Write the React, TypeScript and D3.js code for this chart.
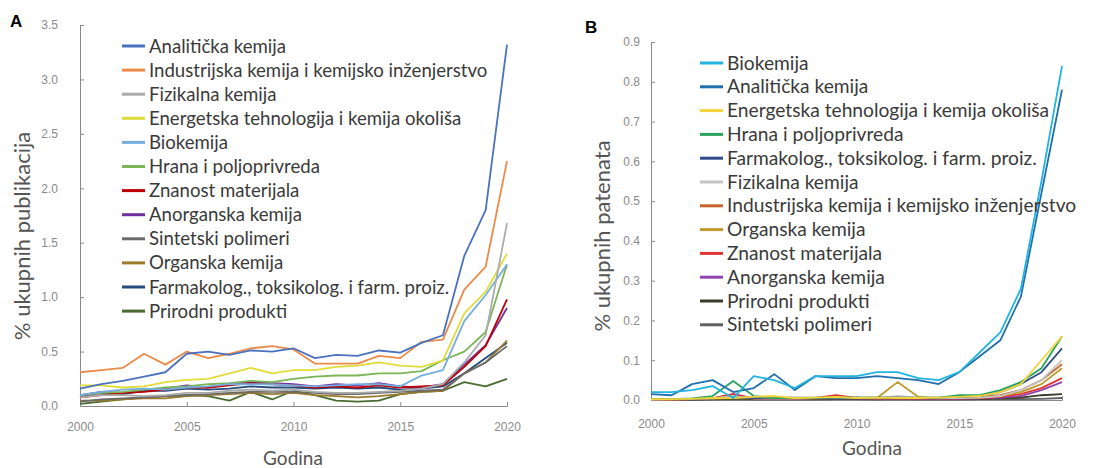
import { useEffect, useRef } from "react";
import * as d3 from "d3";

const years = d3.range(2000, 2021);
const xTicks = [2000, 2005, 2010, 2015, 2020];

// Panel A - publications
const namesA = [
  "Analitička kemija",
  "Industrijska kemija i kemijsko inženjerstvo",
  "Fizikalna kemija",
  "Energetska tehnologija i kemija okoliša",
  "Biokemija",
  "Hrana i poljoprivreda",
  "Znanost materijala",
  "Anorganska kemija",
  "Sintetski polimeri",
  "Organska kemija",
  "Farmakolog., toksikolog. i farm. proiz.",
  "Prirodni produkti",
];
const colorsA = [
  "#4a72c0", "#ec8a4a", "#ababab", "#e2dc3a", "#74aee0", "#7bb556",
  "#c00000", "#7030a0", "#6a6a6a", "#9c7a2c", "#234a7c", "#4a6a30",
];
const valuesA = [
  [0.16, 0.2, 0.23, 0.27, 0.31, 0.48, 0.5, 0.47, 0.51, 0.5, 0.53, 0.44, 0.47, 0.46, 0.51, 0.49, 0.58, 0.65, 1.38, 1.8, 3.32],
  [0.31, 0.33, 0.35, 0.48, 0.38, 0.5, 0.44, 0.48, 0.53, 0.55, 0.52, 0.39, 0.39, 0.39, 0.46, 0.44, 0.59, 0.61, 1.07, 1.28, 2.25],
  [0.08, 0.1, 0.1, 0.09, 0.1, 0.12, 0.12, 0.14, 0.15, 0.14, 0.15, 0.13, 0.12, 0.12, 0.13, 0.14, 0.16, 0.2, 0.4, 0.65, 1.68],
  [0.19, 0.19, 0.17, 0.18, 0.22, 0.24, 0.25, 0.3, 0.35, 0.3, 0.33, 0.33, 0.36, 0.37, 0.4, 0.37, 0.36, 0.42, 0.85, 1.05, 1.4],
  [0.1, 0.13, 0.15, 0.16, 0.15, 0.17, 0.18, 0.2, 0.2, 0.2, 0.19, 0.18, 0.19, 0.2, 0.2, 0.18, 0.28, 0.33, 0.78, 1.02, 1.3],
  [0.1, 0.12, 0.13, 0.15, 0.17, 0.18, 0.2, 0.21, 0.23, 0.22, 0.25, 0.27, 0.28, 0.28, 0.3, 0.3, 0.32, 0.42, 0.5, 0.68, 1.3],
  [0.08, 0.1, 0.12, 0.13, 0.15, 0.17, 0.17, 0.19, 0.21, 0.2, 0.19, 0.17, 0.18, 0.17, 0.19, 0.17, 0.18, 0.19, 0.36, 0.55, 0.98],
  [0.1, 0.13, 0.12, 0.15, 0.16, 0.19, 0.17, 0.2, 0.22, 0.21, 0.2, 0.18, 0.2, 0.19, 0.21, 0.18, 0.17, 0.2, 0.38, 0.56, 0.9],
  [0.04, 0.06, 0.07, 0.08, 0.09, 0.1, 0.11, 0.12, 0.13, 0.13, 0.13, 0.12, 0.11, 0.11, 0.12, 0.13, 0.14, 0.15, 0.3, 0.4, 0.55],
  [0.05, 0.05, 0.06, 0.07, 0.07, 0.09, 0.1, 0.11, 0.12, 0.11, 0.12, 0.1, 0.09, 0.08, 0.09, 0.11, 0.13, 0.14, 0.3, 0.4, 0.6],
  [0.09, 0.12, 0.11, 0.14, 0.14, 0.16, 0.15, 0.16, 0.18, 0.17, 0.17, 0.16, 0.17, 0.16, 0.17, 0.15, 0.16, 0.18, 0.3, 0.44, 0.58],
  [0.02, 0.04, 0.06, 0.08, 0.09, 0.1, 0.09, 0.05, 0.13, 0.06, 0.14, 0.1, 0.05, 0.04, 0.05, 0.11, 0.13, 0.14, 0.22, 0.18, 0.25],
];
const yTicksA = [0, 0.5, 1.0, 1.5, 2.0, 2.5, 3.0, 3.5];

// Panel B - patents
const namesB = [
  "Biokemija",
  "Analitička kemija",
  "Energetska tehnologija i kemija okoliša",
  "Hrana i poljoprivreda",
  "Farmakolog., toksikolog. i farm. proiz.",
  "Fizikalna kemija",
  "Industrijska kemija i kemijsko inženjerstvo",
  "Organska kemija",
  "Znanost materijala",
  "Anorganska kemija",
  "Prirodni produkti",
  "Sintetski polimeri",
];
const colorsB = [
  "#22b4e0", "#1f6fae", "#f2d43a", "#2aa35e", "#2f4d8c", "#c4c4c4",
  "#c8642a", "#c09a2a", "#e23434", "#8e44ad", "#3a3a28", "#606060",
];
const valuesB = [
  [0.02, 0.02, 0.025, 0.035, 0.005, 0.06, 0.05, 0.03, 0.06, 0.06, 0.06, 0.07, 0.07, 0.055, 0.05, 0.07, 0.12, 0.17, 0.28, 0.55, 0.84],
  [0.015, 0.012, 0.04, 0.05, 0.02, 0.03, 0.065, 0.025, 0.06, 0.055, 0.055, 0.06, 0.055, 0.05, 0.04, 0.07, 0.11, 0.15, 0.26, 0.52, 0.78],
  [0.002, 0.002, 0.003, 0.005, 0.005, 0.008, 0.01, 0.005, 0.006, 0.008, 0.005, 0.006, 0.005, 0.005, 0.006, 0.008, 0.01, 0.02, 0.04, 0.1, 0.16],
  [0.002, 0.002, 0.004, 0.01, 0.048, 0.01, 0.005, 0.005, 0.006, 0.006, 0.006, 0.006, 0.005, 0.006, 0.006, 0.012, 0.012, 0.025, 0.045, 0.08, 0.16],
  [0.002, 0.002, 0.003, 0.004, 0.006, 0.005, 0.006, 0.006, 0.005, 0.006, 0.006, 0.006, 0.006, 0.005, 0.006, 0.008, 0.01, 0.02, 0.04, 0.07, 0.13],
  [0.001, 0.002, 0.003, 0.004, 0.01, 0.004, 0.004, 0.004, 0.005, 0.005, 0.005, 0.005, 0.01, 0.006, 0.005, 0.005, 0.006, 0.01, 0.025, 0.05, 0.1],
  [0.002, 0.002, 0.003, 0.004, 0.008, 0.005, 0.005, 0.005, 0.005, 0.005, 0.005, 0.004, 0.005, 0.004, 0.005, 0.006, 0.008, 0.012, 0.025, 0.05, 0.09],
  [0.001, 0.001, 0.002, 0.003, 0.005, 0.004, 0.004, 0.004, 0.004, 0.005, 0.005, 0.005, 0.045, 0.008, 0.004, 0.005, 0.006, 0.01, 0.02, 0.04, 0.08],
  [0.001, 0.001, 0.002, 0.004, 0.015, 0.004, 0.004, 0.004, 0.005, 0.012, 0.005, 0.004, 0.005, 0.004, 0.004, 0.004, 0.005, 0.008, 0.015, 0.03, 0.055],
  [0.001, 0.001, 0.002, 0.004, 0.015, 0.004, 0.003, 0.003, 0.004, 0.005, 0.004, 0.003, 0.004, 0.003, 0.003, 0.003, 0.004, 0.006, 0.01, 0.025, 0.045],
  [0.001, 0.001, 0.001, 0.002, 0.003, 0.002, 0.002, 0.002, 0.002, 0.003, 0.003, 0.002, 0.003, 0.002, 0.002, 0.002, 0.003, 0.004, 0.006, 0.012, 0.015],
  [0.001, 0.001, 0.001, 0.001, 0.002, 0.001, 0.001, 0.001, 0.001, 0.002, 0.002, 0.001, 0.002, 0.001, 0.001, 0.001, 0.002, 0.002, 0.002, 0.003, 0.005],
];
const yTicksB = [0, 0.1, 0.2, 0.3, 0.4, 0.5, 0.6, 0.7, 0.8, 0.9];

function drawPanel(svg, p) {
  const x = d3.scaleLinear().domain([2000, 2020]).range([p.left, p.right]);
  const y = d3.scaleLinear().domain([0, p.yMax]).range([p.bottom, p.top]);
  const g = svg.append("g");

  // axes
  const yAxis = g
    .append("g")
    .attr("transform", `translate(${p.left},0)`)
    .call(d3.axisRight(y).tickValues(p.yTicks).tickSize(4).tickFormat(d3.format(".1f")));
  yAxis.select(".domain").attr("stroke", "#8a8a8a");
  yAxis.selectAll(".tick line").attr("stroke", "#8a8a8a");
  yAxis
    .selectAll(".tick text")
    .attr("x", -p.yLabelGap)
    .attr("text-anchor", "end")
    .attr("fill", "#8a8a8a")
    .style("font-family", "Liberation Sans Narrow, Liberation Sans")
    .style("font-size", "12px");

  const xAxis = g
    .append("g")
    .attr("transform", `translate(0,${p.bottom})`)
    .call(d3.axisTop(x).tickValues(xTicks).tickSize(4).tickFormat(d3.format("d")));
  xAxis.select(".domain").attr("stroke", "#8a8a8a");
  xAxis.selectAll(".tick line").attr("stroke", "#8a8a8a");
  xAxis
    .selectAll(".tick text")
    .attr("y", p.xLabelGap)
    .attr("dy", 0)
    .attr("fill", "#8a8a8a")
    .style("font-family", "Liberation Sans Narrow, Liberation Sans")
    .style("font-size", "12px");

  // lines
  const line = d3
    .line()
    .x((d, i) => x(years[i]))
    .y(d => y(d));
  for (let i = p.values.length - 1; i >= 0; i--) {
    g.append("path")
      .attr("d", line(p.values[i]))
      .attr("fill", "none")
      .attr("stroke", p.colors[i])
      .attr("stroke-width", 1.8)
      .attr("stroke-linejoin", "round");
  }

  // legend
  p.names.forEach((name, i) => {
    const ly = p.legendY + i * p.legendStep;
    g.append("line")
      .attr("x1", p.legendX)
      .attr("x2", p.legendX + 23)
      .attr("y1", ly)
      .attr("y2", ly)
      .attr("stroke", p.colors[i])
      .attr("stroke-width", 3);
    g.append("text")
      .attr("x", p.legendX + 27)
      .attr("y", ly + 6.5)
      .attr("fill", "#3a3a3a")
      .style("font-family", "Lato")
      .style("font-size", p.legendFont + "px")
      .text(name);
  });

  // titles
  g.append("text")
    .attr("x", p.letterX)
    .attr("y", p.letterY)
    .attr("font-weight", "bold")
    .style("font-family", "Liberation Sans")
    .style("font-size", "17px")
    .text(p.letter);

  g.append("text")
    .attr("transform", `translate(${p.yTitleX},${p.yTitleY}) rotate(-90)`)
    .attr("text-anchor", "middle")
    .attr("fill", "#555")
    .style("font-family", "Lato")
    .style("font-size", "22px")
    .text(p.yTitle);

  g.append("text")
    .attr("x", p.xTitleX)
    .attr("y", p.xTitleY)
    .attr("text-anchor", "middle")
    .attr("fill", "#555")
    .style("font-family", "Lato")
    .style("font-size", "19px")
    .text("Godina");
}

export default function App() {
  const svgRef = useRef(null);

  useEffect(() => {
    document.body.style.margin = "0";
    const svg = d3.select(svgRef.current);
    svg.selectAll("*").remove();

    drawPanel(svg, {
      left: 80, right: 507, top: 25, bottom: 406, yMax: 3.5,
      yTicks: yTicksA, yLabelGap: 22, xLabelGap: 25,
      names: namesA, colors: colorsA, values: valuesA,
      legendX: 122, legendY: 46, legendStep: 24.1, legendFont: 18.6,
      letter: "A", letterX: 10, letterY: 27,
      yTitle: "% ukupnih publikacija", yTitleX: 30, yTitleY: 236,
      xTitleX: 293, xTitleY: 465,
    });

    drawPanel(svg, {
      left: 651, right: 1062, top: 42, bottom: 400, yMax: 0.9,
      yTicks: yTicksB, yLabelGap: 11, xLabelGap: 28,
      names: namesB, colors: colorsB, values: valuesB,
      legendX: 700, legendY: 63, legendStep: 23.8, legendFont: 19.2,
      letter: "B", letterX: 585, letterY: 33,
      yTitle: "% ukupnih patenata", yTitleX: 610, yTitleY: 236,
      xTitleX: 872, xTitleY: 455,
    });
  }, []);

  return <svg ref={svgRef} width={1106} height={468} style={{ display: "block", background: "#fff" }}></svg>;
}
